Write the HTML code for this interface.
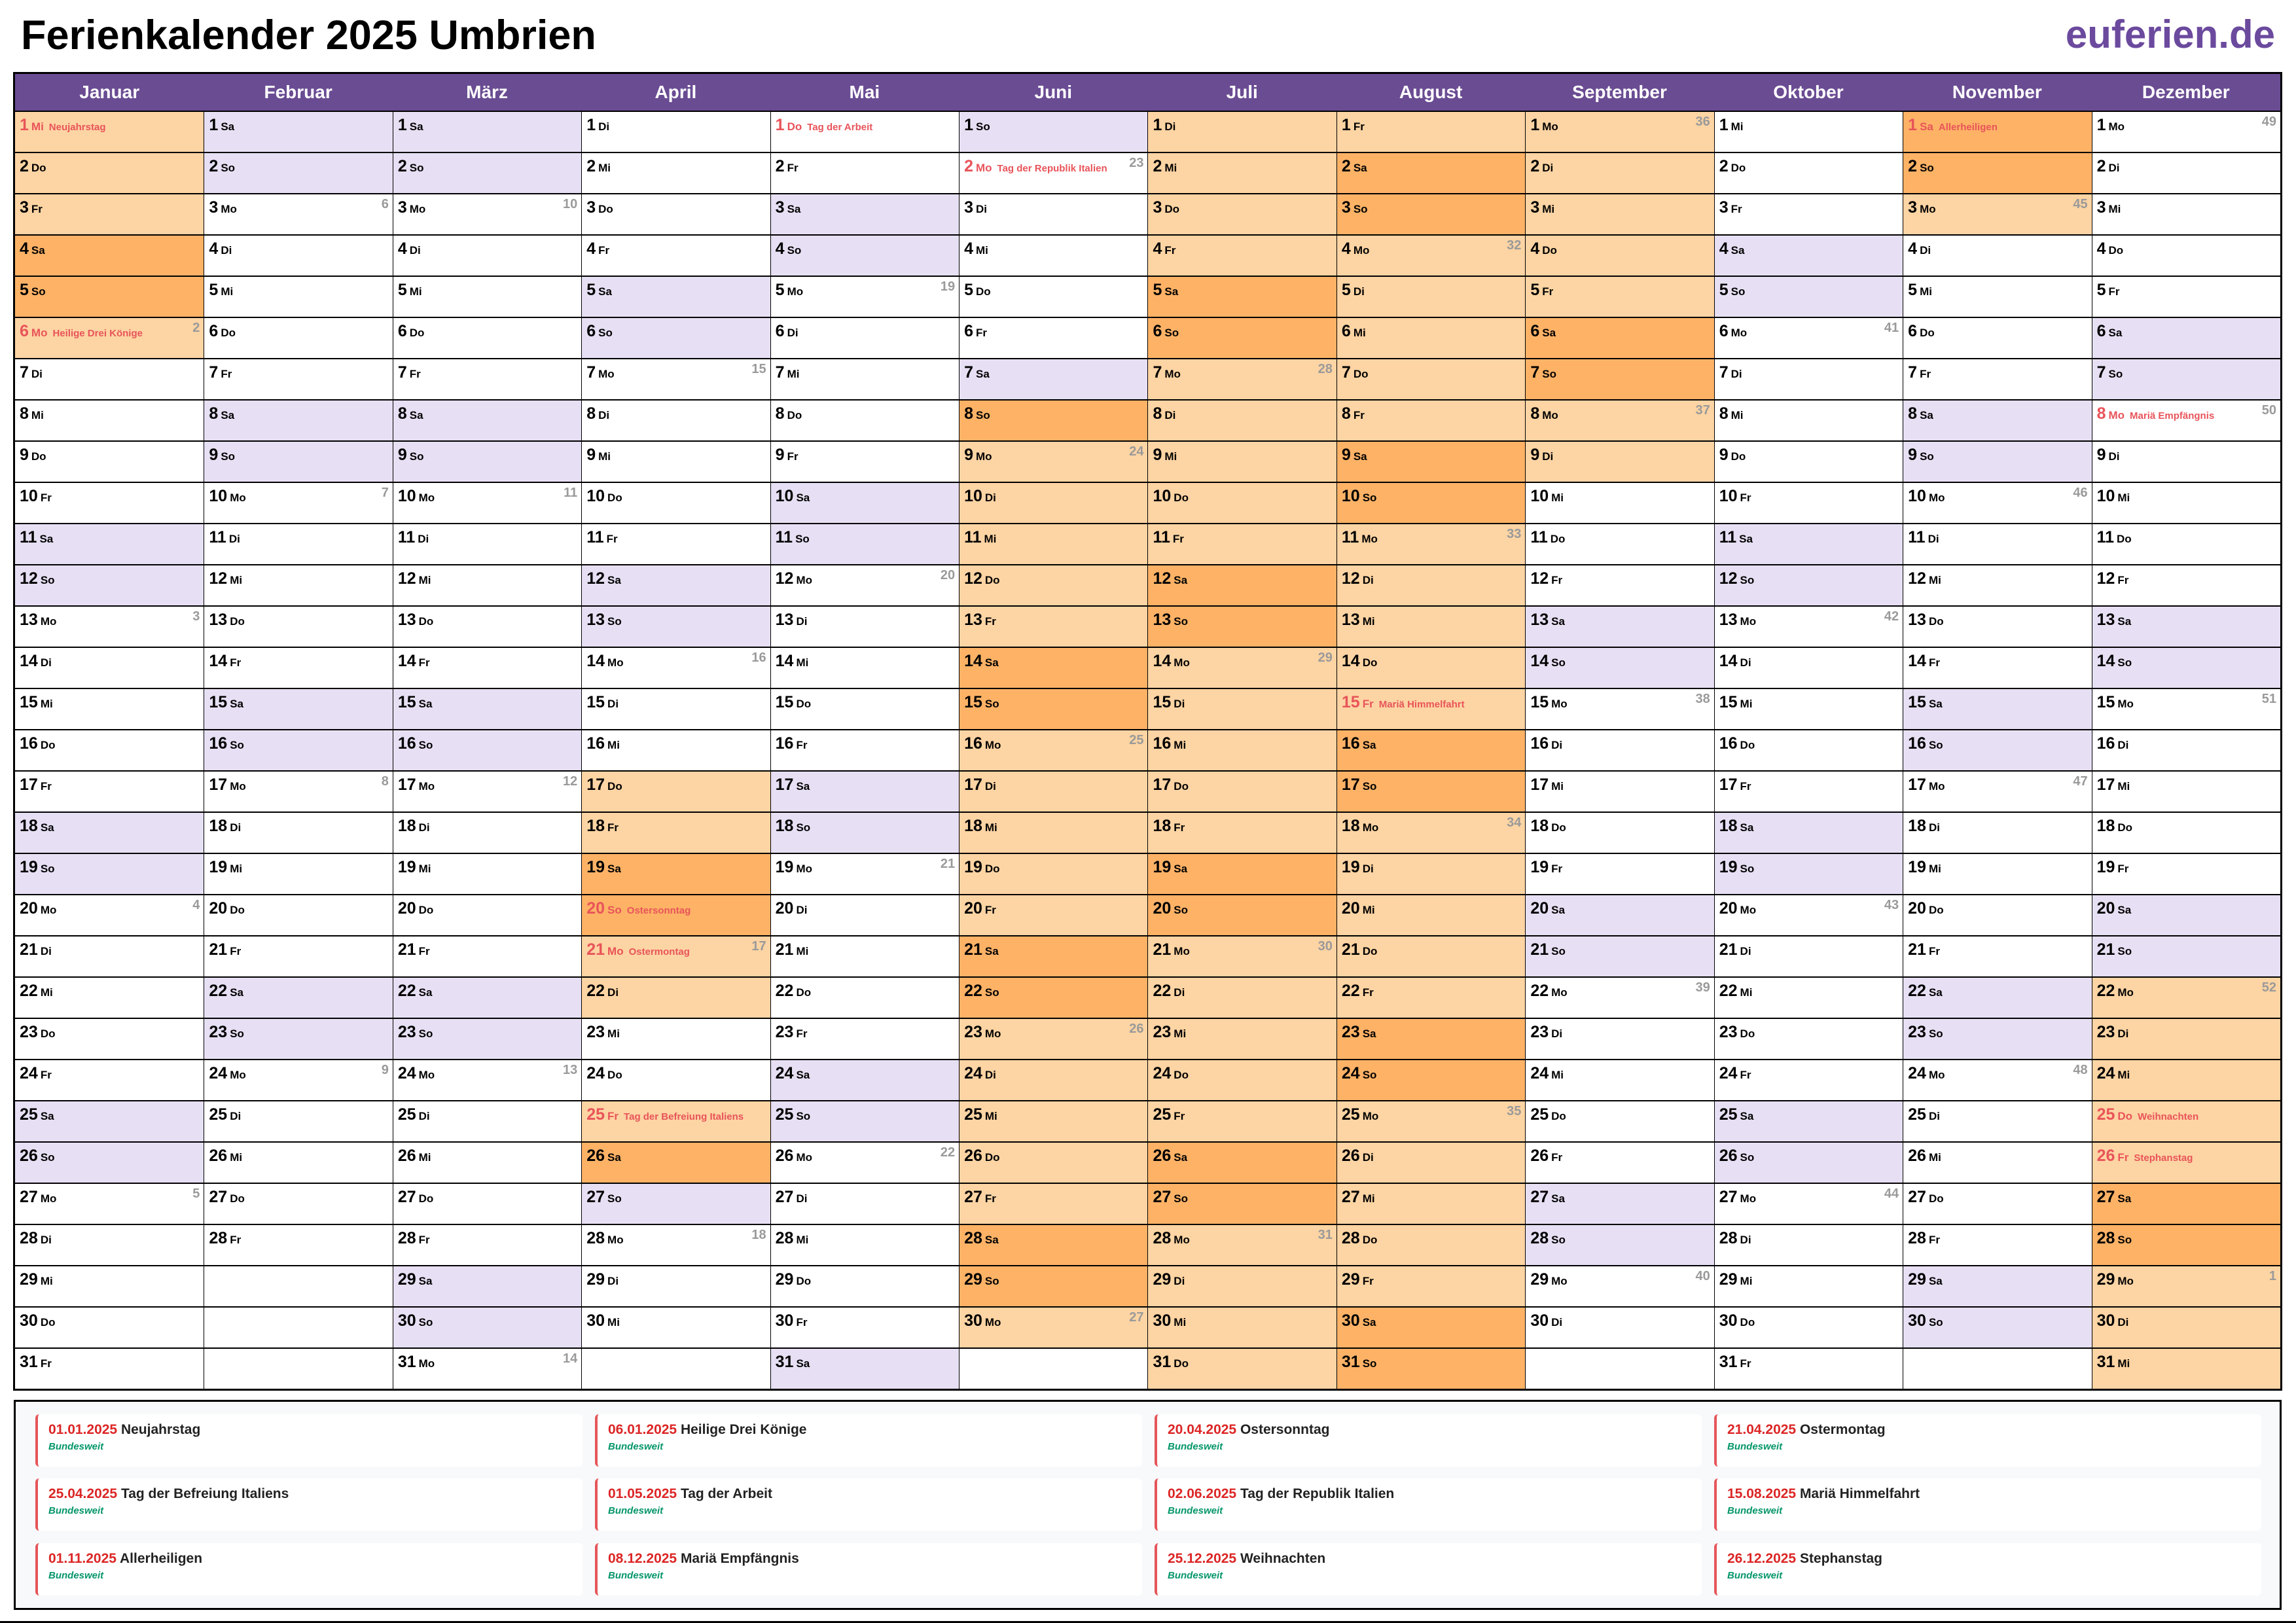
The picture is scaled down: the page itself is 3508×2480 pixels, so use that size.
<!DOCTYPE html>
<html><head><meta charset="utf-8"><style>
*{margin:0;padding:0;box-sizing:border-box}
body{width:3508px;height:2480px;background:#fff;font-family:"Liberation Sans",Arial,sans-serif;position:relative;overflow:hidden}
#t{position:absolute;left:32px;top:18px;font-size:63px;font-weight:bold;color:#000}
#l{position:absolute;right:32px;top:18px;font-size:60px;font-weight:bold;color:#6b4a9e}
#cal{position:absolute;left:20px;top:110px;width:3467px;height:2015px;border:3px solid #000}
#hd{display:grid;grid-template-columns:repeat(12,1fr);height:56px;background:#6a4c93;color:#fff;font-weight:bold;font-size:28px;line-height:56px;text-align:center}
#g{display:grid;grid-template-columns:repeat(12,1fr)}
.m{border-left:1px solid #000}.m:first-child{border-left:none}
.c{height:63px;border-top:2px solid #000;position:relative;padding:4px 0 0 7px;white-space:nowrap;line-height:32px;overflow:hidden}
.c b{font-size:25px}.c i{font-style:normal;font-weight:bold;font-size:17px;margin-left:4px}
.c s{text-decoration:none;font-weight:bold;font-size:15px;margin-left:8px}
.c u{text-decoration:none;position:absolute;right:6px;top:2px;font-size:20px;font-weight:bold;color:#9a9a9a;line-height:26px}
.h b,.h i,.h s{color:#e8545a}
.w{background:#e7dff3}.o{background:#fdd4a3}.d{background:#fdb266}
#lg{position:absolute;left:21px;top:2139px;width:3465px;height:321px;border:3px solid #000;background:#f8f9fb}
.k{position:absolute;width:836px;height:80px;background:#fff;border-left:4px solid #e5565a;border-radius:6px;padding:10px 0 0 16px}
.k p{font-size:21px;font-weight:bold;color:#222;line-height:28px}.k p span{color:#dc2626}
.k em{display:block;font-size:15px;font-weight:bold;color:#059669;line-height:24px}
</style></head><body>
<div id="t">Ferienkalender 2025 Umbrien</div>
<div id="l">euferien.de</div>
<div id="cal">
<div id="hd"><div>Januar</div><div>Februar</div><div>März</div><div>April</div><div>Mai</div><div>Juni</div><div>Juli</div><div>August</div><div>September</div><div>Oktober</div><div>November</div><div>Dezember</div></div>
<div id="g">
<div class="m">
<div class="c o h"><b>1</b><i>Mi</i><s>Neujahrstag</s></div>
<div class="c o"><b>2</b><i>Do</i></div>
<div class="c o"><b>3</b><i>Fr</i></div>
<div class="c d"><b>4</b><i>Sa</i></div>
<div class="c d"><b>5</b><i>So</i></div>
<div class="c o h"><b>6</b><i>Mo</i><s>Heilige Drei Könige</s><u>2</u></div>
<div class="c"><b>7</b><i>Di</i></div>
<div class="c"><b>8</b><i>Mi</i></div>
<div class="c"><b>9</b><i>Do</i></div>
<div class="c"><b>10</b><i>Fr</i></div>
<div class="c w"><b>11</b><i>Sa</i></div>
<div class="c w"><b>12</b><i>So</i></div>
<div class="c"><b>13</b><i>Mo</i><u>3</u></div>
<div class="c"><b>14</b><i>Di</i></div>
<div class="c"><b>15</b><i>Mi</i></div>
<div class="c"><b>16</b><i>Do</i></div>
<div class="c"><b>17</b><i>Fr</i></div>
<div class="c w"><b>18</b><i>Sa</i></div>
<div class="c w"><b>19</b><i>So</i></div>
<div class="c"><b>20</b><i>Mo</i><u>4</u></div>
<div class="c"><b>21</b><i>Di</i></div>
<div class="c"><b>22</b><i>Mi</i></div>
<div class="c"><b>23</b><i>Do</i></div>
<div class="c"><b>24</b><i>Fr</i></div>
<div class="c w"><b>25</b><i>Sa</i></div>
<div class="c w"><b>26</b><i>So</i></div>
<div class="c"><b>27</b><i>Mo</i><u>5</u></div>
<div class="c"><b>28</b><i>Di</i></div>
<div class="c"><b>29</b><i>Mi</i></div>
<div class="c"><b>30</b><i>Do</i></div>
<div class="c"><b>31</b><i>Fr</i></div>
</div>
<div class="m">
<div class="c w"><b>1</b><i>Sa</i></div>
<div class="c w"><b>2</b><i>So</i></div>
<div class="c"><b>3</b><i>Mo</i><u>6</u></div>
<div class="c"><b>4</b><i>Di</i></div>
<div class="c"><b>5</b><i>Mi</i></div>
<div class="c"><b>6</b><i>Do</i></div>
<div class="c"><b>7</b><i>Fr</i></div>
<div class="c w"><b>8</b><i>Sa</i></div>
<div class="c w"><b>9</b><i>So</i></div>
<div class="c"><b>10</b><i>Mo</i><u>7</u></div>
<div class="c"><b>11</b><i>Di</i></div>
<div class="c"><b>12</b><i>Mi</i></div>
<div class="c"><b>13</b><i>Do</i></div>
<div class="c"><b>14</b><i>Fr</i></div>
<div class="c w"><b>15</b><i>Sa</i></div>
<div class="c w"><b>16</b><i>So</i></div>
<div class="c"><b>17</b><i>Mo</i><u>8</u></div>
<div class="c"><b>18</b><i>Di</i></div>
<div class="c"><b>19</b><i>Mi</i></div>
<div class="c"><b>20</b><i>Do</i></div>
<div class="c"><b>21</b><i>Fr</i></div>
<div class="c w"><b>22</b><i>Sa</i></div>
<div class="c w"><b>23</b><i>So</i></div>
<div class="c"><b>24</b><i>Mo</i><u>9</u></div>
<div class="c"><b>25</b><i>Di</i></div>
<div class="c"><b>26</b><i>Mi</i></div>
<div class="c"><b>27</b><i>Do</i></div>
<div class="c"><b>28</b><i>Fr</i></div>
<div class="c"></div>
<div class="c"></div>
<div class="c"></div>
</div>
<div class="m">
<div class="c w"><b>1</b><i>Sa</i></div>
<div class="c w"><b>2</b><i>So</i></div>
<div class="c"><b>3</b><i>Mo</i><u>10</u></div>
<div class="c"><b>4</b><i>Di</i></div>
<div class="c"><b>5</b><i>Mi</i></div>
<div class="c"><b>6</b><i>Do</i></div>
<div class="c"><b>7</b><i>Fr</i></div>
<div class="c w"><b>8</b><i>Sa</i></div>
<div class="c w"><b>9</b><i>So</i></div>
<div class="c"><b>10</b><i>Mo</i><u>11</u></div>
<div class="c"><b>11</b><i>Di</i></div>
<div class="c"><b>12</b><i>Mi</i></div>
<div class="c"><b>13</b><i>Do</i></div>
<div class="c"><b>14</b><i>Fr</i></div>
<div class="c w"><b>15</b><i>Sa</i></div>
<div class="c w"><b>16</b><i>So</i></div>
<div class="c"><b>17</b><i>Mo</i><u>12</u></div>
<div class="c"><b>18</b><i>Di</i></div>
<div class="c"><b>19</b><i>Mi</i></div>
<div class="c"><b>20</b><i>Do</i></div>
<div class="c"><b>21</b><i>Fr</i></div>
<div class="c w"><b>22</b><i>Sa</i></div>
<div class="c w"><b>23</b><i>So</i></div>
<div class="c"><b>24</b><i>Mo</i><u>13</u></div>
<div class="c"><b>25</b><i>Di</i></div>
<div class="c"><b>26</b><i>Mi</i></div>
<div class="c"><b>27</b><i>Do</i></div>
<div class="c"><b>28</b><i>Fr</i></div>
<div class="c w"><b>29</b><i>Sa</i></div>
<div class="c w"><b>30</b><i>So</i></div>
<div class="c"><b>31</b><i>Mo</i><u>14</u></div>
</div>
<div class="m">
<div class="c"><b>1</b><i>Di</i></div>
<div class="c"><b>2</b><i>Mi</i></div>
<div class="c"><b>3</b><i>Do</i></div>
<div class="c"><b>4</b><i>Fr</i></div>
<div class="c w"><b>5</b><i>Sa</i></div>
<div class="c w"><b>6</b><i>So</i></div>
<div class="c"><b>7</b><i>Mo</i><u>15</u></div>
<div class="c"><b>8</b><i>Di</i></div>
<div class="c"><b>9</b><i>Mi</i></div>
<div class="c"><b>10</b><i>Do</i></div>
<div class="c"><b>11</b><i>Fr</i></div>
<div class="c w"><b>12</b><i>Sa</i></div>
<div class="c w"><b>13</b><i>So</i></div>
<div class="c"><b>14</b><i>Mo</i><u>16</u></div>
<div class="c"><b>15</b><i>Di</i></div>
<div class="c"><b>16</b><i>Mi</i></div>
<div class="c o"><b>17</b><i>Do</i></div>
<div class="c o"><b>18</b><i>Fr</i></div>
<div class="c d"><b>19</b><i>Sa</i></div>
<div class="c d h"><b>20</b><i>So</i><s>Ostersonntag</s></div>
<div class="c o h"><b>21</b><i>Mo</i><s>Ostermontag</s><u>17</u></div>
<div class="c o"><b>22</b><i>Di</i></div>
<div class="c"><b>23</b><i>Mi</i></div>
<div class="c"><b>24</b><i>Do</i></div>
<div class="c o h"><b>25</b><i>Fr</i><s>Tag der Befreiung Italiens</s></div>
<div class="c d"><b>26</b><i>Sa</i></div>
<div class="c w"><b>27</b><i>So</i></div>
<div class="c"><b>28</b><i>Mo</i><u>18</u></div>
<div class="c"><b>29</b><i>Di</i></div>
<div class="c"><b>30</b><i>Mi</i></div>
<div class="c"></div>
</div>
<div class="m">
<div class="c h"><b>1</b><i>Do</i><s>Tag der Arbeit</s></div>
<div class="c"><b>2</b><i>Fr</i></div>
<div class="c w"><b>3</b><i>Sa</i></div>
<div class="c w"><b>4</b><i>So</i></div>
<div class="c"><b>5</b><i>Mo</i><u>19</u></div>
<div class="c"><b>6</b><i>Di</i></div>
<div class="c"><b>7</b><i>Mi</i></div>
<div class="c"><b>8</b><i>Do</i></div>
<div class="c"><b>9</b><i>Fr</i></div>
<div class="c w"><b>10</b><i>Sa</i></div>
<div class="c w"><b>11</b><i>So</i></div>
<div class="c"><b>12</b><i>Mo</i><u>20</u></div>
<div class="c"><b>13</b><i>Di</i></div>
<div class="c"><b>14</b><i>Mi</i></div>
<div class="c"><b>15</b><i>Do</i></div>
<div class="c"><b>16</b><i>Fr</i></div>
<div class="c w"><b>17</b><i>Sa</i></div>
<div class="c w"><b>18</b><i>So</i></div>
<div class="c"><b>19</b><i>Mo</i><u>21</u></div>
<div class="c"><b>20</b><i>Di</i></div>
<div class="c"><b>21</b><i>Mi</i></div>
<div class="c"><b>22</b><i>Do</i></div>
<div class="c"><b>23</b><i>Fr</i></div>
<div class="c w"><b>24</b><i>Sa</i></div>
<div class="c w"><b>25</b><i>So</i></div>
<div class="c"><b>26</b><i>Mo</i><u>22</u></div>
<div class="c"><b>27</b><i>Di</i></div>
<div class="c"><b>28</b><i>Mi</i></div>
<div class="c"><b>29</b><i>Do</i></div>
<div class="c"><b>30</b><i>Fr</i></div>
<div class="c w"><b>31</b><i>Sa</i></div>
</div>
<div class="m">
<div class="c w"><b>1</b><i>So</i></div>
<div class="c h"><b>2</b><i>Mo</i><s>Tag der Republik Italien</s><u>23</u></div>
<div class="c"><b>3</b><i>Di</i></div>
<div class="c"><b>4</b><i>Mi</i></div>
<div class="c"><b>5</b><i>Do</i></div>
<div class="c"><b>6</b><i>Fr</i></div>
<div class="c w"><b>7</b><i>Sa</i></div>
<div class="c d"><b>8</b><i>So</i></div>
<div class="c o"><b>9</b><i>Mo</i><u>24</u></div>
<div class="c o"><b>10</b><i>Di</i></div>
<div class="c o"><b>11</b><i>Mi</i></div>
<div class="c o"><b>12</b><i>Do</i></div>
<div class="c o"><b>13</b><i>Fr</i></div>
<div class="c d"><b>14</b><i>Sa</i></div>
<div class="c d"><b>15</b><i>So</i></div>
<div class="c o"><b>16</b><i>Mo</i><u>25</u></div>
<div class="c o"><b>17</b><i>Di</i></div>
<div class="c o"><b>18</b><i>Mi</i></div>
<div class="c o"><b>19</b><i>Do</i></div>
<div class="c o"><b>20</b><i>Fr</i></div>
<div class="c d"><b>21</b><i>Sa</i></div>
<div class="c d"><b>22</b><i>So</i></div>
<div class="c o"><b>23</b><i>Mo</i><u>26</u></div>
<div class="c o"><b>24</b><i>Di</i></div>
<div class="c o"><b>25</b><i>Mi</i></div>
<div class="c o"><b>26</b><i>Do</i></div>
<div class="c o"><b>27</b><i>Fr</i></div>
<div class="c d"><b>28</b><i>Sa</i></div>
<div class="c d"><b>29</b><i>So</i></div>
<div class="c o"><b>30</b><i>Mo</i><u>27</u></div>
<div class="c"></div>
</div>
<div class="m">
<div class="c o"><b>1</b><i>Di</i></div>
<div class="c o"><b>2</b><i>Mi</i></div>
<div class="c o"><b>3</b><i>Do</i></div>
<div class="c o"><b>4</b><i>Fr</i></div>
<div class="c d"><b>5</b><i>Sa</i></div>
<div class="c d"><b>6</b><i>So</i></div>
<div class="c o"><b>7</b><i>Mo</i><u>28</u></div>
<div class="c o"><b>8</b><i>Di</i></div>
<div class="c o"><b>9</b><i>Mi</i></div>
<div class="c o"><b>10</b><i>Do</i></div>
<div class="c o"><b>11</b><i>Fr</i></div>
<div class="c d"><b>12</b><i>Sa</i></div>
<div class="c d"><b>13</b><i>So</i></div>
<div class="c o"><b>14</b><i>Mo</i><u>29</u></div>
<div class="c o"><b>15</b><i>Di</i></div>
<div class="c o"><b>16</b><i>Mi</i></div>
<div class="c o"><b>17</b><i>Do</i></div>
<div class="c o"><b>18</b><i>Fr</i></div>
<div class="c d"><b>19</b><i>Sa</i></div>
<div class="c d"><b>20</b><i>So</i></div>
<div class="c o"><b>21</b><i>Mo</i><u>30</u></div>
<div class="c o"><b>22</b><i>Di</i></div>
<div class="c o"><b>23</b><i>Mi</i></div>
<div class="c o"><b>24</b><i>Do</i></div>
<div class="c o"><b>25</b><i>Fr</i></div>
<div class="c d"><b>26</b><i>Sa</i></div>
<div class="c d"><b>27</b><i>So</i></div>
<div class="c o"><b>28</b><i>Mo</i><u>31</u></div>
<div class="c o"><b>29</b><i>Di</i></div>
<div class="c o"><b>30</b><i>Mi</i></div>
<div class="c o"><b>31</b><i>Do</i></div>
</div>
<div class="m">
<div class="c o"><b>1</b><i>Fr</i></div>
<div class="c d"><b>2</b><i>Sa</i></div>
<div class="c d"><b>3</b><i>So</i></div>
<div class="c o"><b>4</b><i>Mo</i><u>32</u></div>
<div class="c o"><b>5</b><i>Di</i></div>
<div class="c o"><b>6</b><i>Mi</i></div>
<div class="c o"><b>7</b><i>Do</i></div>
<div class="c o"><b>8</b><i>Fr</i></div>
<div class="c d"><b>9</b><i>Sa</i></div>
<div class="c d"><b>10</b><i>So</i></div>
<div class="c o"><b>11</b><i>Mo</i><u>33</u></div>
<div class="c o"><b>12</b><i>Di</i></div>
<div class="c o"><b>13</b><i>Mi</i></div>
<div class="c o"><b>14</b><i>Do</i></div>
<div class="c o h"><b>15</b><i>Fr</i><s>Mariä Himmelfahrt</s></div>
<div class="c d"><b>16</b><i>Sa</i></div>
<div class="c d"><b>17</b><i>So</i></div>
<div class="c o"><b>18</b><i>Mo</i><u>34</u></div>
<div class="c o"><b>19</b><i>Di</i></div>
<div class="c o"><b>20</b><i>Mi</i></div>
<div class="c o"><b>21</b><i>Do</i></div>
<div class="c o"><b>22</b><i>Fr</i></div>
<div class="c d"><b>23</b><i>Sa</i></div>
<div class="c d"><b>24</b><i>So</i></div>
<div class="c o"><b>25</b><i>Mo</i><u>35</u></div>
<div class="c o"><b>26</b><i>Di</i></div>
<div class="c o"><b>27</b><i>Mi</i></div>
<div class="c o"><b>28</b><i>Do</i></div>
<div class="c o"><b>29</b><i>Fr</i></div>
<div class="c d"><b>30</b><i>Sa</i></div>
<div class="c d"><b>31</b><i>So</i></div>
</div>
<div class="m">
<div class="c o"><b>1</b><i>Mo</i><u>36</u></div>
<div class="c o"><b>2</b><i>Di</i></div>
<div class="c o"><b>3</b><i>Mi</i></div>
<div class="c o"><b>4</b><i>Do</i></div>
<div class="c o"><b>5</b><i>Fr</i></div>
<div class="c d"><b>6</b><i>Sa</i></div>
<div class="c d"><b>7</b><i>So</i></div>
<div class="c o"><b>8</b><i>Mo</i><u>37</u></div>
<div class="c o"><b>9</b><i>Di</i></div>
<div class="c"><b>10</b><i>Mi</i></div>
<div class="c"><b>11</b><i>Do</i></div>
<div class="c"><b>12</b><i>Fr</i></div>
<div class="c w"><b>13</b><i>Sa</i></div>
<div class="c w"><b>14</b><i>So</i></div>
<div class="c"><b>15</b><i>Mo</i><u>38</u></div>
<div class="c"><b>16</b><i>Di</i></div>
<div class="c"><b>17</b><i>Mi</i></div>
<div class="c"><b>18</b><i>Do</i></div>
<div class="c"><b>19</b><i>Fr</i></div>
<div class="c w"><b>20</b><i>Sa</i></div>
<div class="c w"><b>21</b><i>So</i></div>
<div class="c"><b>22</b><i>Mo</i><u>39</u></div>
<div class="c"><b>23</b><i>Di</i></div>
<div class="c"><b>24</b><i>Mi</i></div>
<div class="c"><b>25</b><i>Do</i></div>
<div class="c"><b>26</b><i>Fr</i></div>
<div class="c w"><b>27</b><i>Sa</i></div>
<div class="c w"><b>28</b><i>So</i></div>
<div class="c"><b>29</b><i>Mo</i><u>40</u></div>
<div class="c"><b>30</b><i>Di</i></div>
<div class="c"></div>
</div>
<div class="m">
<div class="c"><b>1</b><i>Mi</i></div>
<div class="c"><b>2</b><i>Do</i></div>
<div class="c"><b>3</b><i>Fr</i></div>
<div class="c w"><b>4</b><i>Sa</i></div>
<div class="c w"><b>5</b><i>So</i></div>
<div class="c"><b>6</b><i>Mo</i><u>41</u></div>
<div class="c"><b>7</b><i>Di</i></div>
<div class="c"><b>8</b><i>Mi</i></div>
<div class="c"><b>9</b><i>Do</i></div>
<div class="c"><b>10</b><i>Fr</i></div>
<div class="c w"><b>11</b><i>Sa</i></div>
<div class="c w"><b>12</b><i>So</i></div>
<div class="c"><b>13</b><i>Mo</i><u>42</u></div>
<div class="c"><b>14</b><i>Di</i></div>
<div class="c"><b>15</b><i>Mi</i></div>
<div class="c"><b>16</b><i>Do</i></div>
<div class="c"><b>17</b><i>Fr</i></div>
<div class="c w"><b>18</b><i>Sa</i></div>
<div class="c w"><b>19</b><i>So</i></div>
<div class="c"><b>20</b><i>Mo</i><u>43</u></div>
<div class="c"><b>21</b><i>Di</i></div>
<div class="c"><b>22</b><i>Mi</i></div>
<div class="c"><b>23</b><i>Do</i></div>
<div class="c"><b>24</b><i>Fr</i></div>
<div class="c w"><b>25</b><i>Sa</i></div>
<div class="c w"><b>26</b><i>So</i></div>
<div class="c"><b>27</b><i>Mo</i><u>44</u></div>
<div class="c"><b>28</b><i>Di</i></div>
<div class="c"><b>29</b><i>Mi</i></div>
<div class="c"><b>30</b><i>Do</i></div>
<div class="c"><b>31</b><i>Fr</i></div>
</div>
<div class="m">
<div class="c d h"><b>1</b><i>Sa</i><s>Allerheiligen</s></div>
<div class="c d"><b>2</b><i>So</i></div>
<div class="c o"><b>3</b><i>Mo</i><u>45</u></div>
<div class="c"><b>4</b><i>Di</i></div>
<div class="c"><b>5</b><i>Mi</i></div>
<div class="c"><b>6</b><i>Do</i></div>
<div class="c"><b>7</b><i>Fr</i></div>
<div class="c w"><b>8</b><i>Sa</i></div>
<div class="c w"><b>9</b><i>So</i></div>
<div class="c"><b>10</b><i>Mo</i><u>46</u></div>
<div class="c"><b>11</b><i>Di</i></div>
<div class="c"><b>12</b><i>Mi</i></div>
<div class="c"><b>13</b><i>Do</i></div>
<div class="c"><b>14</b><i>Fr</i></div>
<div class="c w"><b>15</b><i>Sa</i></div>
<div class="c w"><b>16</b><i>So</i></div>
<div class="c"><b>17</b><i>Mo</i><u>47</u></div>
<div class="c"><b>18</b><i>Di</i></div>
<div class="c"><b>19</b><i>Mi</i></div>
<div class="c"><b>20</b><i>Do</i></div>
<div class="c"><b>21</b><i>Fr</i></div>
<div class="c w"><b>22</b><i>Sa</i></div>
<div class="c w"><b>23</b><i>So</i></div>
<div class="c"><b>24</b><i>Mo</i><u>48</u></div>
<div class="c"><b>25</b><i>Di</i></div>
<div class="c"><b>26</b><i>Mi</i></div>
<div class="c"><b>27</b><i>Do</i></div>
<div class="c"><b>28</b><i>Fr</i></div>
<div class="c w"><b>29</b><i>Sa</i></div>
<div class="c w"><b>30</b><i>So</i></div>
<div class="c"></div>
</div>
<div class="m">
<div class="c"><b>1</b><i>Mo</i><u>49</u></div>
<div class="c"><b>2</b><i>Di</i></div>
<div class="c"><b>3</b><i>Mi</i></div>
<div class="c"><b>4</b><i>Do</i></div>
<div class="c"><b>5</b><i>Fr</i></div>
<div class="c w"><b>6</b><i>Sa</i></div>
<div class="c w"><b>7</b><i>So</i></div>
<div class="c h"><b>8</b><i>Mo</i><s>Mariä Empfängnis</s><u>50</u></div>
<div class="c"><b>9</b><i>Di</i></div>
<div class="c"><b>10</b><i>Mi</i></div>
<div class="c"><b>11</b><i>Do</i></div>
<div class="c"><b>12</b><i>Fr</i></div>
<div class="c w"><b>13</b><i>Sa</i></div>
<div class="c w"><b>14</b><i>So</i></div>
<div class="c"><b>15</b><i>Mo</i><u>51</u></div>
<div class="c"><b>16</b><i>Di</i></div>
<div class="c"><b>17</b><i>Mi</i></div>
<div class="c"><b>18</b><i>Do</i></div>
<div class="c"><b>19</b><i>Fr</i></div>
<div class="c w"><b>20</b><i>Sa</i></div>
<div class="c w"><b>21</b><i>So</i></div>
<div class="c o"><b>22</b><i>Mo</i><u>52</u></div>
<div class="c o"><b>23</b><i>Di</i></div>
<div class="c o"><b>24</b><i>Mi</i></div>
<div class="c o h"><b>25</b><i>Do</i><s>Weihnachten</s></div>
<div class="c o h"><b>26</b><i>Fr</i><s>Stephanstag</s></div>
<div class="c d"><b>27</b><i>Sa</i></div>
<div class="c d"><b>28</b><i>So</i></div>
<div class="c o"><b>29</b><i>Mo</i><u>1</u></div>
<div class="c o"><b>30</b><i>Di</i></div>
<div class="c o"><b>31</b><i>Mi</i></div>
</div>
</div>
</div>
<div id="lg"></div>
<div class="k" style="left:54px;top:2161px"><p><span>01.01.2025</span> Neujahrstag</p><em>Bundesweit</em></div>
<div class="k" style="left:909px;top:2161px"><p><span>06.01.2025</span> Heilige Drei Könige</p><em>Bundesweit</em></div>
<div class="k" style="left:1764px;top:2161px"><p><span>20.04.2025</span> Ostersonntag</p><em>Bundesweit</em></div>
<div class="k" style="left:2619px;top:2161px"><p><span>21.04.2025</span> Ostermontag</p><em>Bundesweit</em></div>
<div class="k" style="left:54px;top:2259px"><p><span>25.04.2025</span> Tag der Befreiung Italiens</p><em>Bundesweit</em></div>
<div class="k" style="left:909px;top:2259px"><p><span>01.05.2025</span> Tag der Arbeit</p><em>Bundesweit</em></div>
<div class="k" style="left:1764px;top:2259px"><p><span>02.06.2025</span> Tag der Republik Italien</p><em>Bundesweit</em></div>
<div class="k" style="left:2619px;top:2259px"><p><span>15.08.2025</span> Mariä Himmelfahrt</p><em>Bundesweit</em></div>
<div class="k" style="left:54px;top:2358px"><p><span>01.11.2025</span> Allerheiligen</p><em>Bundesweit</em></div>
<div class="k" style="left:909px;top:2358px"><p><span>08.12.2025</span> Mariä Empfängnis</p><em>Bundesweit</em></div>
<div class="k" style="left:1764px;top:2358px"><p><span>25.12.2025</span> Weihnachten</p><em>Bundesweit</em></div>
<div class="k" style="left:2619px;top:2358px"><p><span>26.12.2025</span> Stephanstag</p><em>Bundesweit</em></div>
<div style="position:absolute;left:0;top:2477px;width:3508px;height:3px;background:#000"></div>
</body></html>
